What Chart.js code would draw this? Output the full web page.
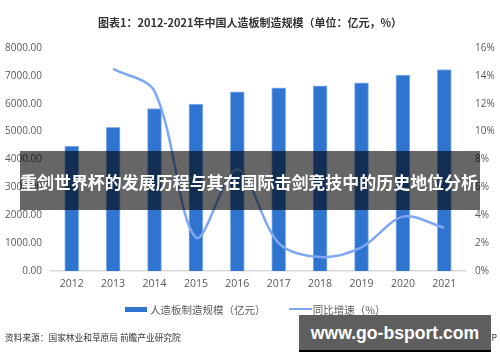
<!DOCTYPE html>
<html>
<head>
<meta charset="utf-8">
<script src="https://cdn.jsdelivr.net/npm/chart.js@4"></script>
<style>
    body { margin: 0; background: #fff; font-family: "Noto Sans CJK SC", "Noto Sans", sans-serif; }
    #wrap { position: relative; width: 500px; height: 362px; overflow: hidden; }
    #chart { position: absolute; left: 0; top: 0; }
    .txt { position: absolute; white-space: nowrap; }
    #title { left: 0; width: 500px; top: 14px; text-align: center; font-size: 11px; font-weight: bold; color: #333; }
    #legend { top: 300px; left: 125px; font-size: 10.5px; color: #595959; }
    #legend span { display: inline-block; vertical-align: middle; }
    #source { left: 5px; top: 331px; font-size: 8.7px; color: #333; }
    #app { right: 3px; top: 331px; font-size: 8.7px; color: #333; }
    #banner { left: 20px; top: 151px; width: 460px; height: 59px; background: rgba(0, 0, 0, 0.6);
        color: #fff; font-size: 17.5px; font-weight: bold; line-height: 62px; overflow: hidden; }
    #banner span { position: absolute; left: 0; top: 0; transform-origin: 0 50%; }
    #mark { left: 299px; top: 315px; width: 192px; height: 35px; background: #5e5e5e; border-bottom: 2px solid #000;
        color: #fff; font-family: "Liberation Sans", Arial, sans-serif; font-size: 17.6px; font-weight: bold;
        text-align: center; line-height: 36px; }
</style>
</head>
<body>
<div id="wrap">
    <canvas id="chart" width="500" height="362"></canvas>
    <div class="txt" id="title">图表1：2012-2021年中国人造板制造规模（单位：亿元，%）</div>
    <div class="txt" id="legend">
        <span style="width:22px;height:5px;background:#2f74cf;margin-right:3px"></span><span>人造板制造规模（亿元）</span>
        <span style="width:23px;height:2px;background:#7fa8f4;margin-left:21px;margin-right:1px"></span><span>同比增速（%）</span>
    </div>
    <div class="txt" id="source">资料来源：国家林业和草原局 前瞻产业研究院</div>
    <div class="txt" id="app">@前瞻经济学人APP</div>
    <div class="txt" id="banner"><span id="bannerText">重剑世界杯的发展历程与其在国际击剑竞技中的历史地位分析</span></div>
    <div class="txt" id="mark">www.go-bsport.com</div>
</div>
<script>
const years = ["2012", "2013", "2014", "2015", "2016", "2017", "2018", "2019", "2020", "2021"]
const scale = [4480, 5150, 5830, 5990, 6430, 6570, 6640, 6750, 7025, 7230]
const growth = [null, 14.5, 12.9, 2.4, 7.3, 2.0, 1.0, 1.7, 3.9, 3.1]
const leftTicks = [0, 1000, 2000, 3000, 4000, 5000, 6000, 7000, 8000]
const rightTicks = [0, 2, 4, 6, 8, 10, 12, 14, 16]

window.addEventListener("load", init)

function init(e) {
    // squeeze the banner line so it spans the box like the picture
    const bt = document.querySelector("#bannerText")
    const w = bt.getBoundingClientRect().width
    bt.style.transform = "scaleX(" + (458 / w) + ")"

    const tickFont = { family: "Open Sans, Noto Sans, sans-serif", size: 10 }

    new Chart(
        document.querySelector("#chart").getContext("2d"),
        {
            type: "bar",
            data: {
                labels: years,
                datasets: [
                    {
                        type: "line",
                        label: "同比增速（%）",
                        data: growth,
                        yAxisID: "y2",
                        borderColor: "#7fa8f4",
                        borderWidth: 2.5,
                        pointRadius: 0,
                        tension: 0.32,
                        fill: false,
                    },
                    {
                        label: "人造板制造规模（亿元）",
                        data: scale,
                        yAxisID: "y",
                        backgroundColor: "#2f74cf",
                        borderColor: "#8ab4f0",
                        borderWidth: 1,
                        barThickness: 14,
                    },
                ],
            },
            options: {
                responsive: false,
                animation: false,
                layout: { padding: { top: 48, left: 0, right: 0, bottom: 0 } },
                plugins: {
                    legend: { display: false },
                    tooltip: { enabled: false },
                },
                scales: {
                    x: {
                        grid: { display: false, drawTicks: false },
                        border: { color: "#d9d9d9", width: 1.5 },
                        ticks: { color: "#595959", font: { ...tickFont, size: 10.5 }, padding: 7 },
                        afterFit: s => { s.height = 91; s.paddingLeft = 0; s.paddingRight = 0 },
                    },
                    y: {
                        position: "left",
                        min: 0, max: 8000,
                        afterBuildTicks: s => { s.ticks = leftTicks.map(v => ({ value: v })) },
                        grid: { display: false, drawTicks: false },
                        border: { display: false },
                        ticks: { color: "#595959", font: tickFont, padding: 9, callback: v => v.toFixed(2) },
                        afterFit: s => { s.width = 51; s.paddingTop = 0; s.paddingBottom = 0 },
                    },
                    y2: {
                        position: "right",
                        min: 0, max: 16,
                        afterBuildTicks: s => { s.ticks = rightTicks.map(v => ({ value: v })) },
                        grid: { display: false, drawTicks: false },
                        border: { display: false },
                        ticks: { color: "#595959", font: tickFont, padding: 10, callback: v => v + "%" },
                        afterFit: s => { s.width = 35; s.paddingTop = 0; s.paddingBottom = 0 },
                    },
                },
            },
        }
    )
}
</script>
</body>
</html>
